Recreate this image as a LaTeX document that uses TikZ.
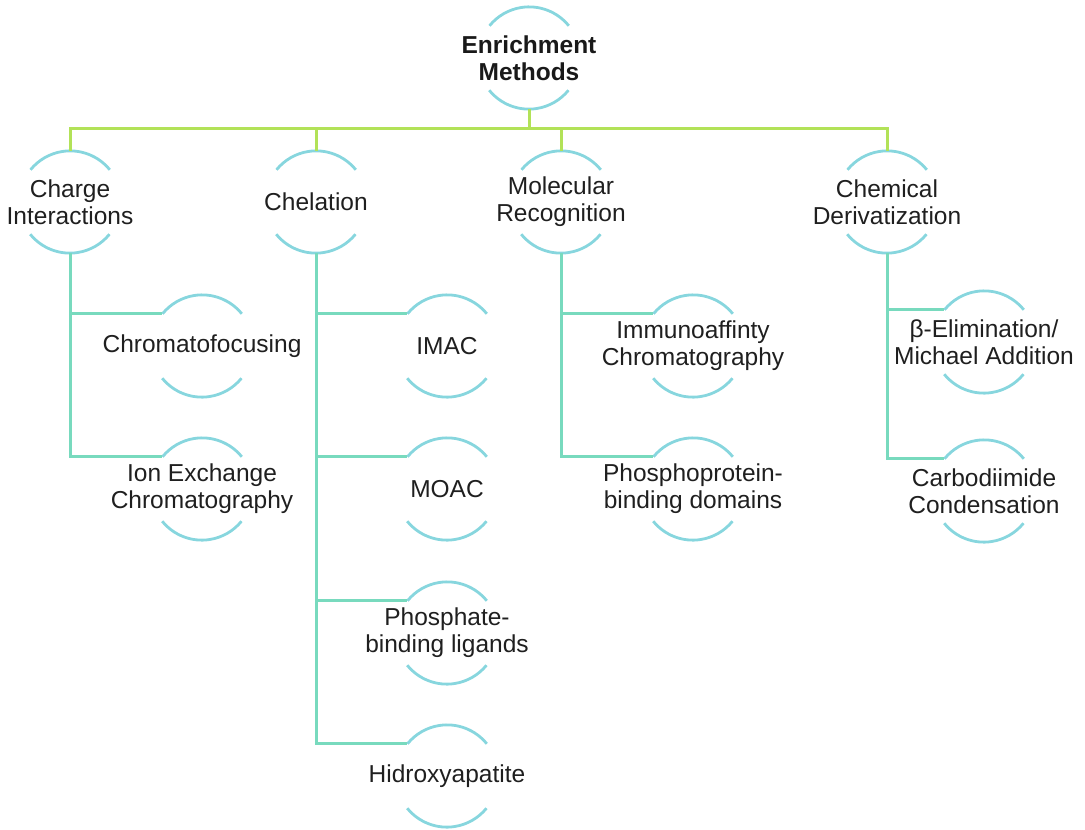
\documentclass[tikz,border=0pt]{standalone}
\usepackage{fontspec}
\setmainfont{Liberation Sans}
\begin{document}
\begin{tikzpicture}[x=1pt,y=1pt,
  ring/.style={circle,minimum size=102pt,inner sep=0pt},
  txt/.style={align=center,font=\fontsize{24.5}{27}\selectfont,text=black!88,inner sep=0pt},
  ttl/.style={align=center,font=\fontsize{24.5}{27}\selectfont\bfseries,text=black!90,inner sep=0pt},
  arcline/.style={draw={rgb,255:red,135;green,214;blue,222},line width=2.8pt},
  busline/.style={draw={rgb,255:red,178;green,226;blue,88},line width=3pt},
  brline/.style={draw={rgb,255:red,120;green,218;blue,190},line width=3pt}]
\useasboundingbox (0,0) rectangle (1085,-830);
% ring nodes
\node[ring] (top) at (529,-58) {};
\node[ring] (c1) at (70,-202) {};
\node[ring] (c2) at (316,-202) {};
\node[ring] (c3) at (561,-202) {};
\node[ring] (c4) at (887,-202) {};
\node[ring] (chf) at (202,-346) {};
\node[ring] (iex) at (202,-489) {};
\node[ring] (ima) at (447,-346) {};
\node[ring] (moa) at (447,-489) {};
\node[ring] (pbl) at (447,-633) {};
\node[ring] (hyd) at (447,-776) {};
\node[ring] (imm) at (693,-346) {};
\node[ring] (ppb) at (693,-489) {};
\node[ring] (bel) at (984,-342) {};
\node[ring] (cbd) at (984,-491) {};
% texts
\node[ttl] (topt) at (top) {Enrichment\\Methods};
\node[txt] (c1t) at (c1) {Charge\\Interactions};
\node[txt] (c2t) at (c2) {Chelation};
\node[txt] (c3t) at (c3) {Molecular\\Recognition};
\node[txt] (c4t) at (c4) {Chemical\\Derivatization};
\node[txt] (chft) at (chf) {Chromatofocusing};
\node[txt] (iext) at (iex) {Ion Exchange\\Chromatography};
\node[txt] (imat) at (ima) {IMAC};
\node[txt] (moat) at (moa) {MOAC};
\node[txt] (pblt) at (pbl) {Phosphate-\\binding ligands};
\node[txt] (hydt) at (hyd) {Hidroxyapatite};
\node[txt] (immt) at (imm) {Immunoaffinty\\Chromatography};
\node[txt] (ppbt) at (ppb) {Phosphoprotein-\\binding domains};
\node[txt] (belt) at (bel) {β-Elimination/\\Michael Addition};
\node[txt] (cbdt) at (cbd) {Carbodiimide\\Condensation};
% arcs
\foreach \n in {top,c1,c2,c3,c4,chf,iex,ima,moa,pbl,hyd,imm,ppb,bel,cbd}{
  \draw[arcline] (\n.39) arc[start angle=39,end angle=141,radius=51pt];
  \draw[arcline] (\n.219) arc[start angle=219,end angle=321,radius=51pt];
}
% top level bus
\coordinate (b) at (529,-128);
\draw[busline] (top.south) -- (b);
\draw[busline] (c1.north) -- (c1.north |- b) -- (c4.north |- b) -- (c4.north);
\draw[busline] (c2.north) -- (c2.north |- b);
\draw[busline] (c3.north) -- (c3.north |- b);
% branches
\draw[brline] (c1.south) |- (chf.141);
\draw[brline] (c1.south) |- (iex.141);
\draw[brline] (c2.south) |- (ima.141);
\draw[brline] (c2.south) |- (moa.141);
\draw[brline] (c2.south) |- (pbl.141);
\draw[brline] (c2.south) |- (hyd.141);
\draw[brline] (c3.south) |- (imm.141);
\draw[brline] (c3.south) |- (ppb.141);
\draw[brline] (c4.south) |- (bel.141);
\draw[brline] (c4.south) |- (cbd.141);
\end{tikzpicture}
\end{document}
